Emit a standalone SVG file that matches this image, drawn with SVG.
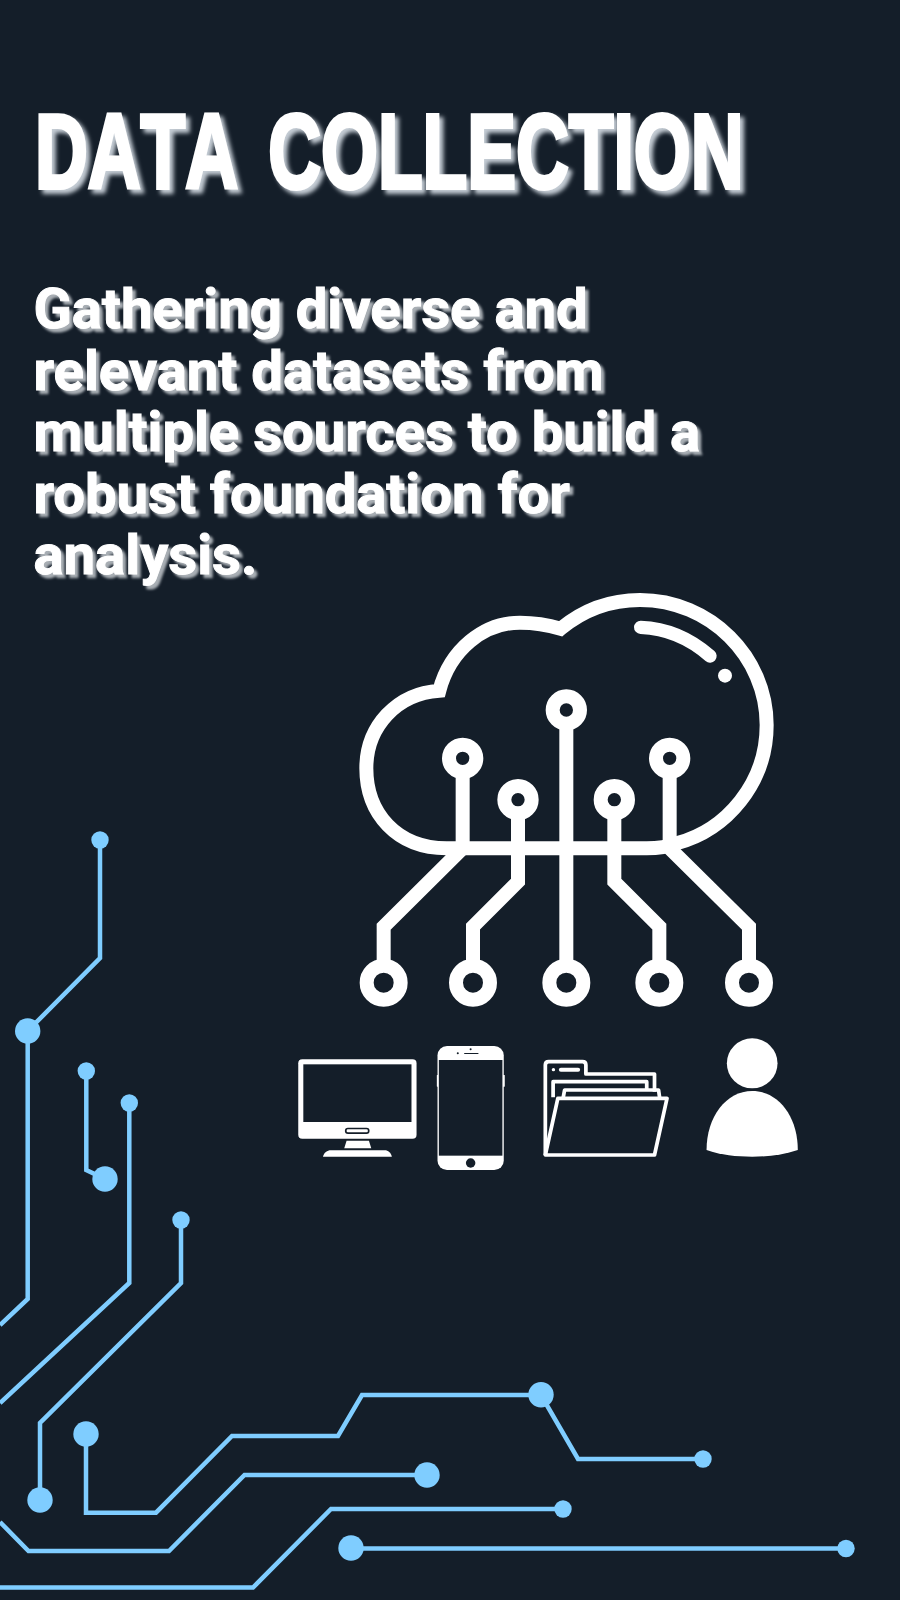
<svg xmlns="http://www.w3.org/2000/svg" width="900" height="1600" viewBox="0 0 900 1600">
<defs>
<filter id="titleShadow" filterUnits="userSpaceOnUse" x="0" y="80" width="800" height="140"><feDropShadow dx="4" dy="4" stdDeviation="2.2" flood-color="#c4ccd4"/></filter>
<filter id="bodyShadow" filterUnits="userSpaceOnUse" x="0" y="270" width="800" height="340"><feDropShadow dx="3.5" dy="3.5" stdDeviation="0.8" flood-color="#a8aeb4"/></filter>
</defs>
<style>
.wl{fill:none;stroke:#fff;stroke-width:42}
.wf{fill:#fff}
.bg{fill:#141e29}
.trace{fill:none;stroke:#7fcdff;stroke-width:4.5;stroke-linejoin:miter}
.pad{fill:#7fcdff}
.fo{fill:none;stroke:#fff;stroke-width:11;stroke-linejoin:round}
.title{font-family:"Liberation Sans",Arial,sans-serif;font-weight:700;font-size:106px;font-kerning:none;fill:#fff;stroke:#fff;stroke-width:4}
.body{font-family:Roboto,"Liberation Sans",sans-serif;font-weight:700;font-size:56.2px;fill:#fff;stroke:#fff;stroke-width:1}
</style>
<rect class="bg" width="900" height="1600"/>
<g id="title" filter="url(#titleShadow)"><text class="title" transform="translate(35,188) scale(.69,1)"><tspan x="0" y="0">DATA</tspan><tspan x="338" y="0">COLLECTION</tspan></text></g>
<g id="description" filter="url(#bodyShadow)">
<text class="body" x="33.5" y="328">Gathering diverse and</text>
<text class="body" x="33.5" y="389.5">relevant datasets from</text>
<text class="body" x="33.5" y="451">multiple sources to build a</text>
<text class="body" x="33.5" y="512.5">robust foundation for</text>
<text class="body" x="33.5" y="574">analysis.</text>
</g>
<g id="cloud" transform="translate(340,580) scale(.33333)">
<path class="wl" d="M320 805C170 805 79 700 79 565C79 440 170 340 298 332C330 210 430 128 540 128C585 128 625 135 662 146C730 90 810 60 900 60C1110 60 1280 230 1280 435C1280 610 1160 750 1010 790C985 800 950 805 920 805Z"/>
<path class="wl" style="stroke-linecap:round;stroke-width:40" d="M902 142C980 145 1050 175 1110 228"/>
<circle class="wf" cx="1155" cy="287" r="21"/>
<path class="wl" d="M368 576V805L131 1040V1140M534 700V905L399 1040V1140M679 430V1140M823 700V905L958 1040V1140M989 576V805L1227 1040V1140"/>
<circle class="wl" cx="368" cy="535" r="41"/><circle class="wl" cx="534" cy="659" r="41"/><circle class="wl" cx="679" cy="390" r="41"/><circle class="wl" cx="823" cy="659" r="41"/><circle class="wl" cx="989" cy="535" r="41"/>
<circle class="wl" cx="131" cy="1208" r="51"/><circle class="wl" cx="399" cy="1208" r="51"/><circle class="wl" cx="679" cy="1208" r="51"/><circle class="wl" cx="958" cy="1208" r="51"/><circle class="wl" cx="1227" cy="1208" r="51"/>
</g>
<g id="monitor" transform="translate(280,1020) scale(.338,.33333)">
<rect class="wf" x="54" y="118" width="350" height="238" rx="12"/>
<rect class="bg" x="69" y="133" width="320" height="173"/>
<rect class="bg" x="192" y="323" width="73" height="19" rx="9"/><rect class="wf" x="197" y="328" width="63" height="9" rx="4"/>
<path class="wf" d="M197 362H263L270 385H190Z"/>
<path class="wf" d="M127 410C130 398 140 391 150 391H310C320 391 328 398 331 410Z"/>
</g>
<g id="phone" transform="translate(280,1020) scale(.338,.33333)">
<rect class="wf" x="464" y="165" width="201" height="35" rx="1"/>
<rect class="wf" x="466" y="78" width="196" height="372" rx="28"/>
<rect class="bg" x="470" y="120" width="188" height="287"/>
<circle class="bg" cx="526" cy="100" r="3"/><circle class="bg" cx="564" cy="88" r="3"/><rect class="bg" x="545" y="99" width="42" height="3"/>
<circle class="bg" cx="564" cy="429" r="14"/>
</g>
<g id="folder" transform="translate(280,1020) scale(.338,.33333)">
<path class="fo" d="M785 405V135Q785 125 795 125H895Q905 125 905 135V162H1108V215"/>
<path class="fo" d="M808 232V185H1085V210"/>
<path class="fo" d="M838 232L842 210H1120L1123 232"/>
<path class="fo" d="M785 405L822 235H1145L1108 405Z"/>
<circle class="wf" cx="809" cy="149" r="5"/><rect class="wf" x="825" y="143" width="63" height="12" rx="6"/>
</g>
<g id="person" transform="translate(280,1020) scale(.338,.33333)">
<circle class="wf" cx="1397" cy="130" r="75"/>
<path class="wf" d="M1262 390C1262 290 1320 213 1397 213C1475 213 1532 290 1532 390C1490 405 1440 410 1397 410C1350 410 1305 405 1262 390Z"/>
</g>
<g id="connectors">
<path class="trace" d="M100 840V958L27.7 1031V1299L0 1325"/>
<path class="trace" d="M86.3 1071V1170L105 1179"/>
<path class="trace" d="M129.3 1103V1283L0 1403"/>
<path class="trace" d="M181 1220V1283L40 1423V1500"/>
<path class="trace" d="M86 1434V1512.7H156L232 1436H338L362 1395H541L578 1459H703"/>
<path class="trace" d="M0 1522L28.5 1551H169L244.5 1475H427"/>
<path class="trace" d="M0 1587.5H253L331 1509H563"/>
<path class="trace" d="M351 1548.5H846"/>
</g>
<g id="pads">
<circle class="pad" cx="100" cy="840" r="8.7"/><circle class="pad" cx="27.7" cy="1031" r="12.7"/>
<circle class="pad" cx="86.3" cy="1071" r="8.7"/><circle class="pad" cx="105" cy="1179" r="12.7"/>
<circle class="pad" cx="129.3" cy="1103" r="8.7"/><circle class="pad" cx="181" cy="1220" r="8.7"/>
<circle class="pad" cx="40" cy="1500" r="12.7"/><circle class="pad" cx="86" cy="1434" r="12.7"/>
<circle class="pad" cx="541" cy="1394.7" r="12.7"/><circle class="pad" cx="703" cy="1459" r="8.7"/>
<circle class="pad" cx="427" cy="1475" r="12.7"/><circle class="pad" cx="563" cy="1509" r="8.7"/>
<circle class="pad" cx="351" cy="1548" r="12.7"/><circle class="pad" cx="846" cy="1548.5" r="8.7"/>
</g>
</svg>
